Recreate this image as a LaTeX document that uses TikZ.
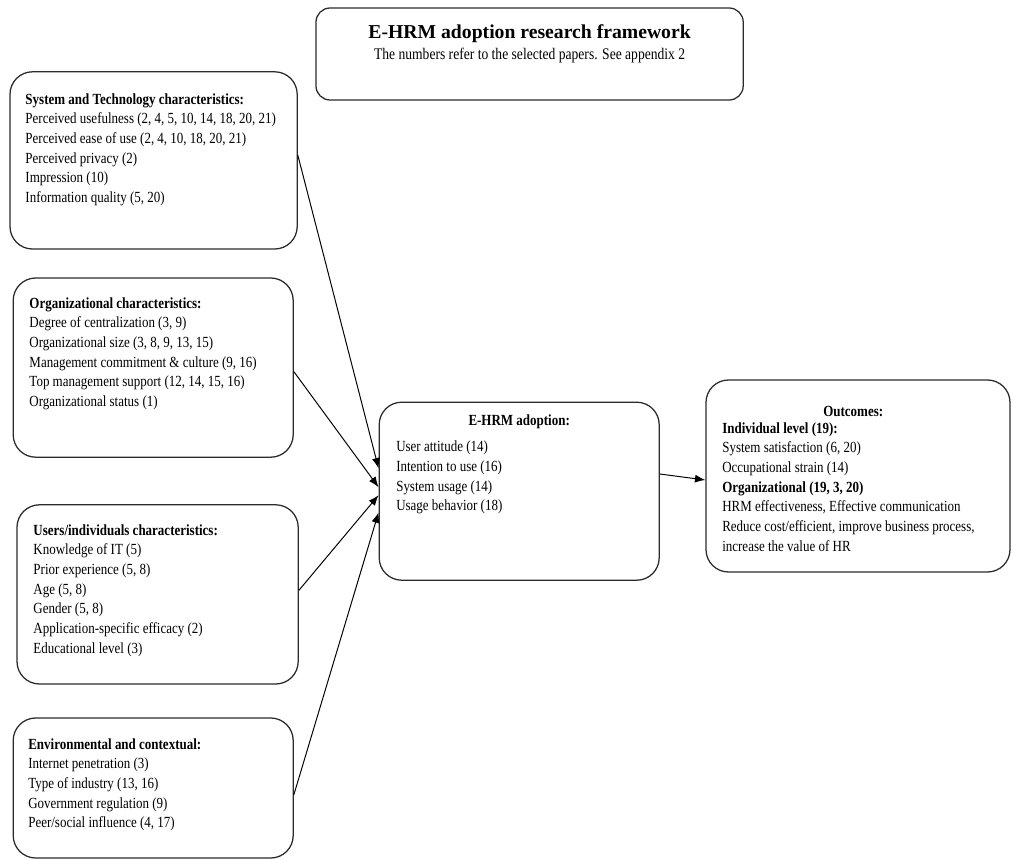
\documentclass[tikz,border=0pt]{standalone}
\usepackage{fontspec}
\setmainfont{Liberation Serif}
\newfontfamily\narrowserif[FakeStretch=0.84]{Liberation Serif}
\usetikzlibrary{arrows.meta,positioning}
\definecolor{frameGray}{HTML}{2B2B2B}
\tikzset{
  factor/.style={draw=frameGray, line width=0.9pt, rounded corners=16pt},
  titlebox/.style={draw=frameGray, line width=0.9pt, rounded corners=10pt},
  itemlist/.style={anchor=north west, align=left, inner sep=0pt,
        font=\narrowserif\fontsize{11}{14}\selectfont},
  boxhead/.style={anchor=north, inner sep=0pt,
        font=\narrowserif\bfseries\fontsize{11}{14}\selectfont},
  link/.style={-{Latex[length=2.6mm,width=2mm]}, line width=0.7pt, draw=black}
}

\begin{document}
\begin{tikzpicture}
\useasboundingbox (0,0) rectangle (25.3,-21.5);

% title
\node[titlebox, minimum width=10.68cm, minimum height=2.3cm] (title) at (13.24,-1.35) {};
\node[inner sep=0pt, anchor=north, align=center] (titletxt) at (13.24,-0.6)
  {{\bfseries\fontsize{14}{17}\selectfont E-HRM adoption research framework}\\[3pt]
   {\narrowserif\fontsize{11.5}{14}\selectfont The numbers refer to the selected papers. See appendix 2}};

% factor boxes (left)
\node[factor, minimum width=7.18cm, minimum height=4.43cm] (sys) at (3.84,-4.01) {};
\node[itemlist] (systxt) at (0.63,-2.33)
  {\textbf{System and Technology characteristics:}\\
   Perceived usefulness (2, 4, 5, 10, 14, 18, 20, 21)\\
   Perceived ease of use (2, 4, 10, 18, 20, 21)\\
   Perceived privacy (2)\\
   Impression (10)\\
   Information quality (5, 20)};

\node[factor, minimum width=7.0cm, minimum height=4.48cm] (org) at (3.83,-9.19) {};
\node[itemlist] (orgtxt) at (0.73,-7.43)
  {\textbf{Organizational characteristics:}\\
   Degree of centralization (3, 9)\\
   Organizational size (3, 8, 9, 13, 15)\\
   Management commitment \& culture (9, 16)\\
   Top management support (12, 14, 15, 16)\\
   Organizational status (1)};

\node[factor, minimum width=7.03cm, minimum height=4.48cm] (users) at (3.94,-14.86) {};
\node[itemlist] (userstxt) at (0.83,-13.1)
  {\textbf{Users/individuals characteristics:}\\
   Knowledge of IT (5)\\
   Prior experience (5, 8)\\
   Age (5, 8)\\
   Gender (5, 8)\\
   Application-specific efficacy (2)\\
   Educational level (3)};

\node[factor, minimum width=7.0cm, minimum height=3.5cm] (env) at (3.83,-19.7) {};
\node[itemlist] (envtxt) at (0.7,-18.45)
  {\textbf{Environmental and contextual:}\\
   Internet penetration (3)\\
   Type of industry (13, 16)\\
   Government regulation (9)\\
   Peer/social influence (4, 17)};

% adoption
\node[factor, minimum width=7.0cm, minimum height=4.45cm] (adopt) at (12.98,-12.28) {};
\node[boxhead] (adopthead) at (12.98,-10.37) {E-HRM adoption:};
\node[itemlist] (adopttxt) at (9.9,-11.02)
  {User attitude (14)\\
   Intention to use (16)\\
   System usage (14)\\
   Usage behavior (18)};

% outcomes
\node[factor, minimum width=7.6cm, minimum height=4.8cm] (outc) at (21.45,-11.9) {};
\node[boxhead] (outchead) at (21.33,-10.15) {Outcomes:};
\node[itemlist] (outctxt) at (18.05,-10.55)
  {\textbf{Individual level (19):}\\
   System satisfaction (6, 20)\\
   Occupational strain (14)\\
   \textbf{Organizational (19, 3, 20)}\\
   HRM effectiveness, Effective communication\\
   Reduce cost/efficient, improve business process,\\
   increase the value of HR};

% links
\draw[link] ([yshift=0.13cm]sys.east) -- ([yshift=0.57cm]adopt.west);
\draw[link] ([yshift=-0.1cm]org.east) -- ([yshift=0.1cm]adopt.west);
\draw[link] ([yshift=0.1cm]users.east) -- ([yshift=-0.1cm]adopt.west);
\draw[link] ([yshift=-0.17cm]env.east) -- ([yshift=-0.53cm]adopt.west);
\draw[link] ([yshift=0.43cm]adopt.east) -- ([yshift=-0.1cm]outc.west);
\end{tikzpicture}
\end{document}
